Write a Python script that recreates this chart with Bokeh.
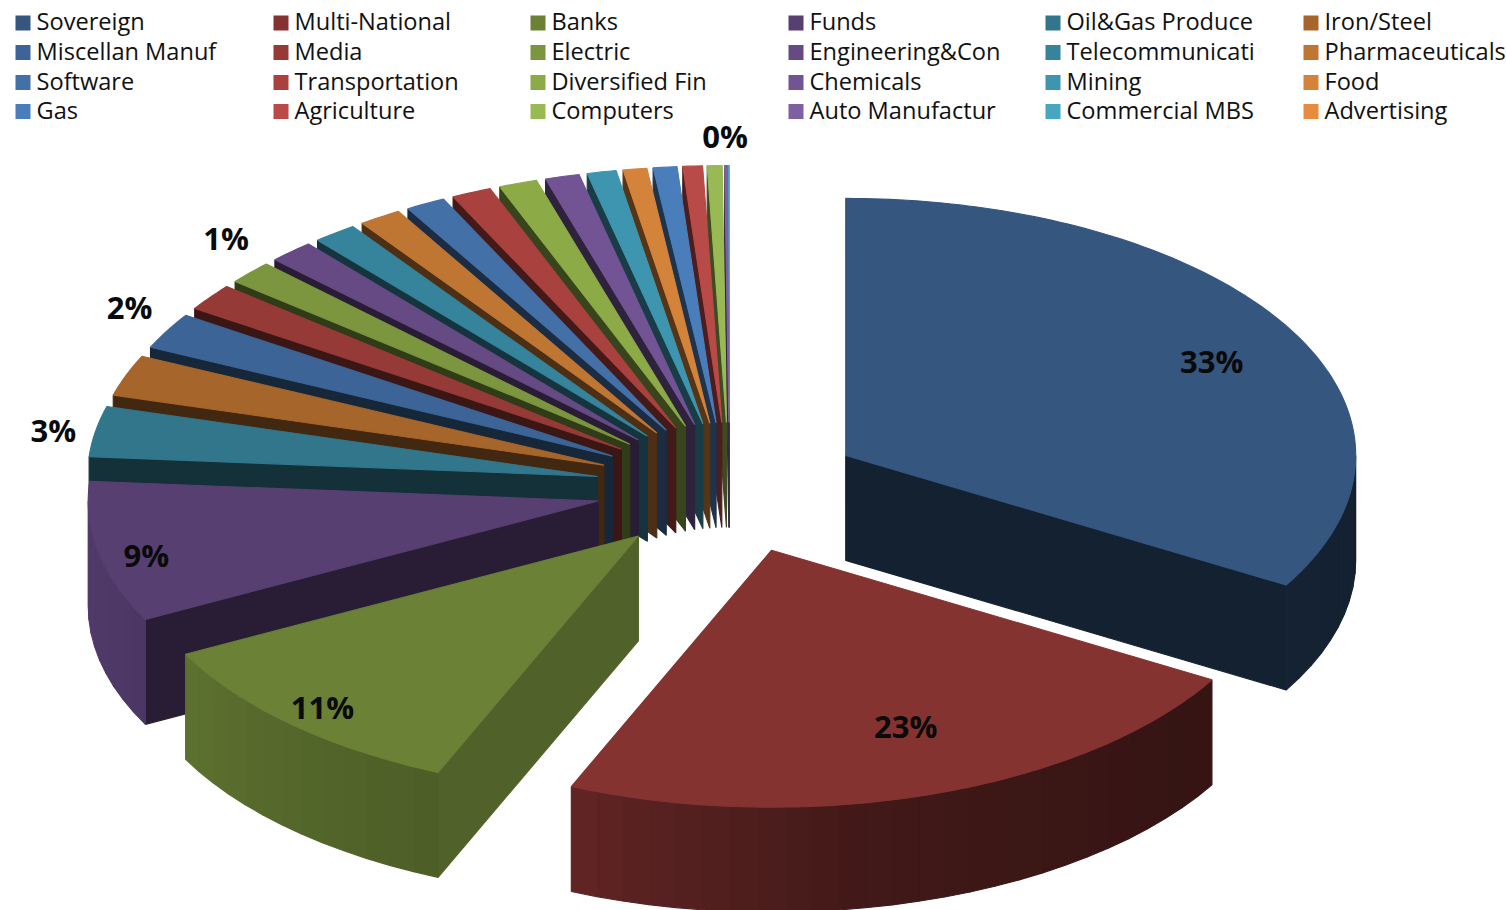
import numpy as np
from bokeh.plotting import figure
from bokeh.models import Range1d, ColumnDataSource
from bokeh.core.properties import value
from bokeh.embed import file_html
from bokeh.resources import INLINE

# ---- data (slice order, clockwise from 12 o'clock) ----
names = ["Sovereign", "Multi-National", "Banks", "Funds", "Oil&Gas Produce", "Iron/Steel",
         "Miscellan Manuf", "Media", "Electric", "Engineering&Con", "Telecommunicati", "Pharmaceuticals",
         "Software", "Transportation", "Diversified Fin", "Chemicals", "Mining", "Food",
         "Gas", "Agriculture", "Computers", "Auto Manufactur", "Commercial MBS", "Advertising"]
shares = [33.4, 23.0, 10.96, 8.84, 3.16, 2.57, 2.26, 1.69, 1.46, 1.43, 1.39, 1.35,
          1.26, 1.26, 1.21, 1.08, 0.92, 0.75, 0.75, 0.62, 0.47, 0.09, 0.02, 0.02]
colors = ["#35567F", "#843331", "#6A8136", "#573F72", "#31768A", "#A6652A",
          "#3C6496", "#963A38", "#7B963E", "#654A84", "#36839C", "#C07633",
          "#4470A8", "#A9413F", "#8CAA46", "#725495", "#3E95AF", "#D4833A",
          "#4A7EBB", "#B84A47", "#98B954", "#7E60A0", "#47A6C0", "#E78C3F"]
labelled = [0, 1, 2, 3, 4, 6, 8, 21]

# ---- layout ----
W, H = 1506, 910
CX, CY = 729.0, 487.5
A, B = 510.0, 257.0
EXPLODE_X, EXPLODE_Y = 134.0, 65.5
DEPTH = 105.0
legend_cols = [15, 273, 530, 788, 1045, 1303]
legend_rows = [22.5, 52, 82, 111]
label_radius = [0.78, 0.70, 0.70, 0.75, 1.12, 1.14, 1.14, 1.0]
label_shift = [(21, 5), (22, 5), (-73, 39), (-77, 16), (18, 4), (25, -6), (29, -10), (-1, -30)]


def shade(hex_color, f):
    r, g, b = (int(hex_color[i:i + 2], 16) for i in (1, 3, 5))
    return "#%02x%02x%02x" % (int(r * f), int(g * f), int(b * f))


def outer_factor(t):
    return float(np.interp(t, [90, 130, 170, 201, 240, 273], [0.38, 0.41, 0.50, 0.72, 0.87, 0.95]))


def cut_factor(normal):
    return float(np.interp(normal % 360, [100, 125, 150, 205, 360], [0.76, 0.76, 0.48, 0.39, 0.44]))


frac = np.array(shares) / sum(shares)
ends = np.cumsum(frac) * 360.0
starts = ends - frac * 360.0
mids = (starts + ends) / 2


def apex(i):
    m = np.radians(mids[i])
    return CX + EXPLODE_X * np.sin(m), CY - EXPLODE_Y * np.cos(m)


def rim(i, t, r=1.0):
    ax, ay = apex(i)
    th = np.radians(t)
    return ax + A * r * np.sin(th), ay - B * r * np.cos(th)


xs, ys, cs = [], [], []


def add(px, py, c):
    xs.append(list(px))
    ys.append(list(py))
    cs.append(c)


def cut_wall(i, t, normal):
    ax, ay = apex(i)
    rx, ry = rim(i, t)
    add([ax, rx, rx, ax], [ay, ry, ry + DEPTH, ay + DEPTH], shade(colors[i], cut_factor(normal)))


# painter's order: back slices first
for i in range(len(names) - 1, -1, -1):
    s, e = starts[i], ends[i]
    if np.sin(np.radians(s)) < 0:
        cut_wall(i, s, s - 90)
    if np.sin(np.radians(e)) > 0:
        cut_wall(i, e, e + 90)
    lo, hi = max(s, 90.0), min(e, 270.0)
    if hi > lo:
        steps = max(1, int((hi - lo) / 3))
        grid = np.linspace(lo, hi, steps + 1)
        for t0, t1 in zip(grid[:-1], grid[1:]):
            x0, y0 = rim(i, t0)
            x1, y1 = rim(i, t1)
            add([x0, x1, x1, x0], [y0, y1, y1 + DEPTH, y0 + DEPTH],
                shade(colors[i], outer_factor((t0 + t1) / 2)))
    arc = np.linspace(s, e, max(2, int((e - s) / 1.0) + 2))
    ax, ay = apex(i)
    pts = [rim(i, t) for t in arc]
    add([ax] + [p[0] for p in pts], [ay] + [p[1] for p in pts], colors[i])

p = figure(width=W, height=H, x_range=Range1d(0, W), y_range=Range1d(H, 0),
           output_backend="svg", toolbar_location=None, min_border=0,
           outline_line_color=None, background_fill_color="white", border_fill_color="white")
p.axis.visible = False
p.grid.visible = False

p.patches("xs", "ys", source=ColumnDataSource(dict(xs=xs, ys=ys, c=cs)),
          fill_color="c", line_color="c", line_width=1.1)

sx, sy, sc, tx, ty, tt = [], [], [], [], [], []
for c_i, col in enumerate(legend_cols):
    for r_i, row in enumerate(legend_rows):
        idx = r_i * 6 + c_i
        sx.append(col + 7.5)
        sy.append(row)
        sc.append(colors[idx])
        tx.append(col + 21)
        ty.append(row - 2)
        tt.append(names[idx])
p.rect(sx, sy, width=15, height=15, fill_color=sc, line_color=None)
p.text(tx, ty, text=tt, text_font=value("Open Sans"), text_font_size="23.6px",
       text_color="#111111", text_align="left", text_baseline="middle")

lx, ly, lt = [], [], []
for k, i in enumerate(labelled):
    x, y = rim(i, mids[i], label_radius[k])
    lx.append(x + label_shift[k][0])
    ly.append(y + label_shift[k][1])
    lt.append("%d%%" % round(shares[i]))
p.text(lx, ly, text=lt, text_font=value("Open Sans"), text_font_style="bold",
       text_font_size="31px", text_color="#0a0a0a", text_align="center", text_baseline="middle")

open("out.html", "w").write(file_html(p, INLINE))
